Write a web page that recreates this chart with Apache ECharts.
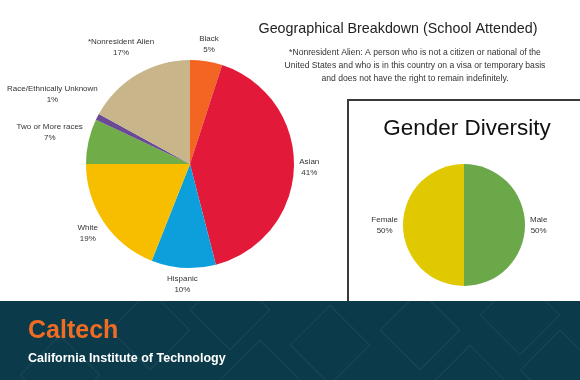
<!DOCTYPE html>
<html><head><meta charset="utf-8">
<script src="https://cdn.jsdelivr.net/npm/echarts@6/dist/echarts.min.js"></script>
<style>html,body{margin:0;padding:0;background:#fff}#c{width:580px;height:380px}</style>
</head><body><div id="c"></div>
<script>
const raceCategories = ['Black','Asian','Hispanic','White','Two or More races','Race/Ethnically Unknown','*Nonresident Alien'];
const raceValues = [5,41,10,19,7,1,17];
const raceColors = ['#f26522','#e3193a','#0c9fdc','#f7be00','#70ac47','#6a4a94','#c8b68a'];
const genderCategories = ['Male','Female'];
const genderValues = [50,50];
const genderColors = ['#6aa84a','#e0c900'];

const FONT = 'Liberation Sans, Arial, sans-serif';
const C1 = [190,164], R1 = 104;
const C2 = [464,225], R2 = 61;

function midAngles(vals){
  const tot = vals.reduce((a,b)=>a+b,0);
  let cum = 0; const out = [];
  vals.forEach(v=>{ out.push((cum + v/2)/tot*2*Math.PI); cum += v; });
  return out;
}
const mid1 = midAngles(raceValues), mid2 = midAngles(genderValues);
const pies = [{c:C1, r:R1, mids:mid1}, {c:C2, r:R2, mids:mid2}];

function measure(text){
  const lines = text.split('\n');
  let w = 0;
  lines.forEach(l=>{ w = Math.max(w, echarts.format.getTextRect ? 0 : 0); });
  return w;
}
const ctx = document.createElement('canvas').getContext('2d');
ctx.font = '8px ' + FONT;
function textW(s){ return ctx.measureText(s).width; }

function labelLayout(p){
  const P = pies[p.seriesIndex];
  const a = P.mids[p.dataIndex];
  const s = Math.sin(a), c = Math.cos(a);
  const name = p.seriesIndex === 0 ? raceCategories[p.dataIndex] : genderCategories[p.dataIndex];
  const hw = textW(name)/2, hh = 11;
  const d = P.r + 5 + hw*Math.abs(s) + hh*Math.abs(c);
  return { x: P.c[0] + d*s, y: P.c[1] - d*c, align:'center', verticalAlign:'middle', hideOverlap:false };
}

const chart = echarts.init(document.getElementById('c'));

const diamonds = [];
[[150,330],[230,310],[330,345],[420,330],[520,315],[560,370],[60,375],[260,380],[470,385]].forEach(([x,y])=>{
  diamonds.push({type:'rect', x:x, y:y, rotation:Math.PI/4, shape:{x:-28,y:-28,width:56,height:56},
    style:{fill:'none', stroke:'rgba(255,255,255,0.05)', lineWidth:1.5}, z:1});
});

const labelBase = {show:true, position:'outside', formatter:'{b}\n{d}%', fontFamily:FONT, fontSize:8, color:'#333', lineHeight:11, align:'center', overflow:'none'};

chart.setOption({
  backgroundColor:'#ffffff',
  animation:false,
  graphic:[
    {type:'rect', shape:{x:348,y:100,width:240,height:210}, style:{fill:'#fff', stroke:'#3a3a3a', lineWidth:2}, z:0},
    {type:'text', x:398, y:29, style:{text:'Geographical Breakdown (School Attended)', font:'14.3px '+FONT, fill:'#222', textAlign:'center', textVerticalAlign:'middle'}},
    {type:'text', x:415, y:66, style:{text:'*Nonresident Alien: A person who is not a citizen or national of the\nUnited States and who is in this country on a visa or temporary basis\nand does not have the right to remain indefinitely.', font:'8.6px '+FONT, fill:'#333', textAlign:'center', textVerticalAlign:'middle', lineHeight:13}},
    {type:'text', x:467, y:129, style:{text:'Gender Diversity', font:'22.5px '+FONT, fill:'#111', textAlign:'center', textVerticalAlign:'middle'}},
    {type:'rect', shape:{x:0,y:301,width:580,height:79}, style:{fill:'#0b3a4a'}, z:1},
    ...diamonds,
    {type:'text', x:28, y:331, style:{text:'Caltech', font:'bold 25px '+FONT, fill:'#f06c23', textVerticalAlign:'middle'}, z:3},
    {type:'text', x:28, y:359, style:{text:'California Institute of Technology', font:'bold 12.5px '+FONT, fill:'#ffffff', textVerticalAlign:'middle'}, z:3}
  ],
  series:[
    {
      type:'pie', center:C1, radius:R1, startAngle:90, clockwise:true, avoidLabelOverlap:false,
      label: labelBase,
      labelLine:{show:false},
      labelLayout: labelLayout,
      itemStyle:{borderWidth:0},
      emphasis:{disabled:true},
      data: raceCategories.map((n,i)=>({name:n, value:raceValues[i], itemStyle:{color:raceColors[i]}})),
      z:2
    },
    {
      type:'pie', center:C2, radius:R2, startAngle:90, clockwise:true, avoidLabelOverlap:false,
      label: labelBase,
      labelLine:{show:false},
      labelLayout: labelLayout,
      itemStyle:{borderWidth:0},
      emphasis:{disabled:true},
      data: genderCategories.map((n,i)=>({name:n, value:genderValues[i], itemStyle:{color:genderColors[i]}})),
      z:2
    }
  ]
});
</script></body></html>
